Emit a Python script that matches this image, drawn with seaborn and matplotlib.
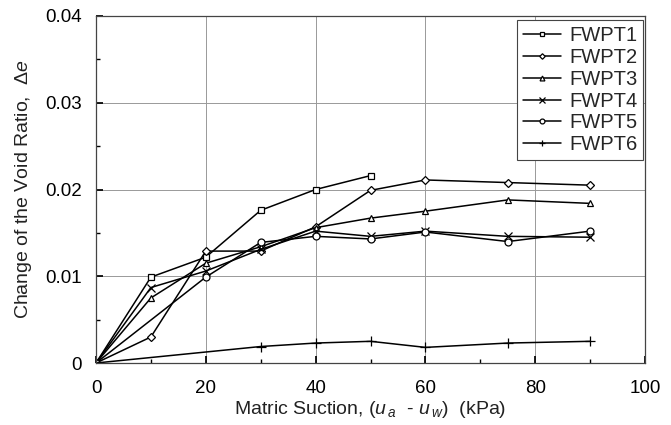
import matplotlib
matplotlib.use("Agg")
import matplotlib.pyplot as plt
import seaborn as sns
import pandas as pd
from matplotlib.ticker import MultipleLocator

series_names = ["FWPT1", "FWPT2", "FWPT3", "FWPT4", "FWPT5", "FWPT6"]
x1 = [0, 10, 20, 30, 40, 50]
y1 = [0.0, 0.0099, 0.0122, 0.0176, 0.0200, 0.0216]
x2 = [0, 10, 20, 30, 40, 50, 60, 75, 90]
y2 = [0.0, 0.0030, 0.0129, 0.0129, 0.0157, 0.0199, 0.0211, 0.0208, 0.0205]
x3 = [0, 10, 20, 30, 40, 50, 60, 75, 90]
y3 = [0.0, 0.0075, 0.0115, 0.0134, 0.0156, 0.0167, 0.0175, 0.0188, 0.0184]
x4 = [0, 10, 20, 30, 40, 50, 60, 75, 90]
y4 = [0.0, 0.0087, 0.0106, 0.0131, 0.0152, 0.0146, 0.0152, 0.0146, 0.0145]
x5 = [0, 20, 30, 40, 50, 60, 75, 90]
y5 = [0.0, 0.0099, 0.0139, 0.0146, 0.0143, 0.0151, 0.0140, 0.0152]
x6 = [0, 30, 40, 50, 60, 75, 90]
y6 = [0.0, 0.0019, 0.0023, 0.0025, 0.0018, 0.0023, 0.0025]
y_tick_labels = ["0", "0.01", "0.02", "0.03", "0.04"]

xs = [x1, x2, x3, x4, x5, x6]
ys = [y1, y2, y3, y4, y5, y6]
markers = ["s", "D", "^", "x", "o", "+"]
msizes = [5, 4, 5, 6, 5, 7]

sns.set_theme(style="white")
plt.rcParams["font.family"] = ["Liberation Sans", "DejaVu Sans"]
plt.rcParams["mathtext.fontset"] = "custom"
plt.rcParams["mathtext.rm"] = "Liberation Sans"
plt.rcParams["mathtext.it"] = "Liberation Sans:italic"

rows = []
for name, xv, yv in zip(series_names, xs, ys):
    for a, b in zip(xv, yv):
        rows.append({"series": name, "x": a, "y": b})
df = pd.DataFrame(rows)

fig = plt.figure(figsize=(6.71, 4.25), dpi=100)
ax = fig.add_axes([96 / 671, 1 - 363 / 425, (645 - 96) / 671, (363 - 16) / 425])

for name, m, ms in zip(series_names, markers, msizes):
    sub = df[df["series"] == name]
    sns.lineplot(data=sub, x="x", y="y", ax=ax, color="black", linewidth=1.1,
                 marker=m, markersize=ms, markerfacecolor="white",
                 markeredgecolor="black", markeredgewidth=0.9, label=name,
                 estimator=None, sort=False)

ax.set_xlim(0, 100)
ax.set_ylim(0, 0.04)
ax.xaxis.set_major_locator(MultipleLocator(20))
ax.xaxis.set_minor_locator(MultipleLocator(10))
ax.yaxis.set_minor_locator(MultipleLocator(0.005))
ax.set_yticks([0, 0.01, 0.02, 0.03, 0.04])
ax.set_yticklabels(y_tick_labels)
ax.grid(True, which="major", color="#999999", linewidth=0.7)
ax.tick_params(which="both", direction="in", labelsize=13.5, colors="black")
ax.tick_params(which="major", length=5, bottom=True, left=True)
ax.tick_params(which="minor", length=3, bottom=True, left=True)
ax.tick_params(axis="x", which="major", pad=12)
ax.tick_params(axis="y", which="major", pad=10)
for s in ax.spines.values():
    s.set_color("#444444")
    s.set_linewidth(0.9)

ax.set_xlabel(r"Matric Suction, ($u_{\,a}$  - $u_{\,w}$)  (kPa)", fontsize=14, color="#222222", labelpad=2)
ax.set_ylabel(r"Change of the Void Ratio,  $\Delta e$", fontsize=14, color="#222222", labelpad=8)

leg = ax.legend(loc="upper right", bbox_to_anchor=(0.997, 0.988), frameon=True, fancybox=False,
                edgecolor="#444444", fontsize=14.5, handlelength=1.9, handletextpad=0.4,
                borderpad=0.3, labelspacing=0.14, markerscale=0.7, framealpha=1,
                borderaxespad=0)
leg.get_frame().set_linewidth(0.8)

fig.savefig("out.png", dpi=100, facecolor="white")
